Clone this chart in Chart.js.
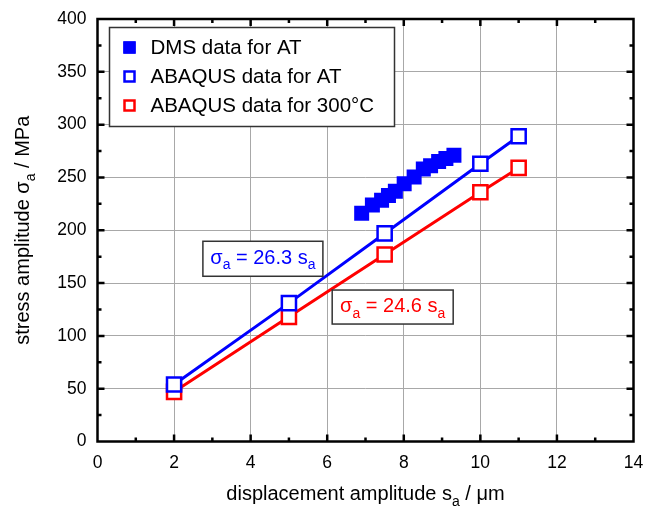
<!DOCTYPE html>
<html>
<head>
<meta charset="utf-8">
<script src="https://cdn.jsdelivr.net/npm/chart.js@4/dist/chart.umd.min.js"></script>
<style>
  html, body { margin: 0; padding: 0; background: #fff; }
  #wrap { width: 646px; height: 508px; position: relative; }
</style>
</head>
<body>
<div id="wrap"><canvas id="chart"></canvas></div>
<script>
// Stress amplitude vs displacement amplitude
const dmsX = [6.9, 7.18, 7.42, 7.6, 7.78, 8.01, 8.27, 8.51, 8.7, 8.91, 9.1, 9.31];
const dmsY = [216, 224, 228.5, 233, 237, 244, 250.5, 258, 261, 265, 268, 271];
const abaqusX = [2, 5, 7.5, 10, 11];
const abaqusAT = [54, 131, 197, 263, 289];
const abaqus300 = [47, 118, 177, 236, 259];
const seriesNames = ['DMS data for AT', 'ABAQUS data for AT', 'ABAQUS data for 300°C'];
const xTicks = [0, 2, 4, 6, 8, 10, 12, 14];
const yTicks = [0, 50, 100, 150, 200, 250, 300, 350, 400];

const BLUE = '#0000ff';
const RED = '#ff0000';
const FONT = '"Liberation Sans", Arial, sans-serif';

function pts(xs, ys) { return xs.map((x, i) => ({ x: x, y: ys[i] })); }

// text with subscripts: parts = [[text, isSub], ...]
function drawRich(ctx, parts, x, y, size, color, align) {
    const subSize = Math.round(size * 0.68);
    let total = 0;
    parts.forEach(p => {
        ctx.font = (p[1] ? subSize : size) + 'px ' + FONT;
        total += ctx.measureText(p[0]).width;
    });
    let cx = align === 'center' ? x - total / 2 : x;
    ctx.fillStyle = color;
    ctx.textBaseline = 'alphabetic';
    ctx.textAlign = 'left';
    parts.forEach(p => {
        ctx.font = (p[1] ? subSize : size) + 'px ' + FONT;
        ctx.fillText(p[0], cx, p[1] ? y + size * 0.28 : y);
        cx += ctx.measureText(p[0]).width;
    });
}

const framePlugin = {
    id: 'frame',
    afterDraw(chart) {
        const ctx = chart.ctx;
        const a = chart.chartArea;
        const xs = chart.scales.x, ys = chart.scales.y;
        ctx.save();
        ctx.strokeStyle = '#000';
        ctx.lineWidth = 2.5;
        ctx.strokeRect(a.left, a.top, a.right - a.left, a.bottom - a.top);
        ctx.beginPath();
        for (let v = 1; v < 14; v++) {
            const px = xs.getPixelForValue(v);
            const len = v % 2 === 0 ? 7 : 4;
            ctx.moveTo(px, a.bottom); ctx.lineTo(px, a.bottom - len);
            ctx.moveTo(px, a.top); ctx.lineTo(px, a.top + len);
        }
        for (let v = 25; v < 400; v += 25) {
            const py = ys.getPixelForValue(v);
            const len = v % 50 === 0 ? 7 : 4;
            ctx.moveTo(a.left, py); ctx.lineTo(a.left + len, py);
            ctx.moveTo(a.right, py); ctx.lineTo(a.right - len, py);
        }
        ctx.stroke();

        // axis titles
        drawRich(ctx, [['displacement amplitude s', false], ['a', true], [' / \u03bcm', false]],
            (a.left + a.right) / 2, 500, 20, '#000', 'center');
        ctx.save();
        ctx.translate(29, (a.top + a.bottom) / 2);
        ctx.rotate(-Math.PI / 2);
        drawRich(ctx, [['stress amplitude \u03c3', false], ['a', true], [' / MPa', false]],
            0, 0, 20, '#000', 'center');
        ctx.restore();

        // fit equation boxes
        const boxes = [
            { cx: 4.32, cy: 173, w: 120, h: 35, color: BLUE, parts: [['\u03c3', false], ['a', true], [' = 26.3 s', false], ['a', true]] },
            { cx: 7.71, cy: 127.3, w: 121, h: 34, color: RED, parts: [['\u03c3', false], ['a', true], [' = 24.6 s', false], ['a', true]] }
        ];
        boxes.forEach(b => {
            const px = xs.getPixelForValue(b.cx), py = ys.getPixelForValue(b.cy);
            ctx.fillStyle = '#fff';
            ctx.fillRect(px - b.w / 2, py - b.h / 2, b.w, b.h);
            ctx.strokeStyle = '#333';
            ctx.lineWidth = 1.5;
            ctx.strokeRect(px - b.w / 2, py - b.h / 2, b.w, b.h);
            drawRich(ctx, b.parts, px, py + 5, 20, b.color, 'center');
        });

        // legend
        const lx = a.left + 12, ly = a.top + 8.5, lw = 285, lh = 99;
        ctx.fillStyle = '#fff';
        ctx.fillRect(lx, ly, lw, lh);
        ctx.strokeStyle = '#333';
        ctx.lineWidth = 1.5;
        ctx.strokeRect(lx, ly, lw, lh);
        const rows = [
            { fill: BLUE, stroke: BLUE },
            { fill: '#fff', stroke: BLUE },
            { fill: '#fff', stroke: RED }
        ];
        rows.forEach((r, i) => {
            const ry = ly + 20 + i * 29;
            const mx = lx + 20;
            ctx.fillStyle = r.fill;
            ctx.fillRect(mx - 6, ry - 6, 12, 12);
            ctx.strokeStyle = r.stroke;
            ctx.lineWidth = 2.5;
            ctx.strokeRect(mx - 5, ry - 5, 10, 10);
            ctx.font = '20.5px ' + FONT;
            ctx.fillStyle = '#000';
            ctx.textAlign = 'left';
            ctx.textBaseline = 'middle';
            ctx.fillText(seriesNames[i], lx + 41, ry + 1);
        });
        ctx.restore();
    }
};

new Chart(document.getElementById('chart'), {
    type: 'scatter',
    data: {
        datasets: [
            {
                label: seriesNames[0],
                data: pts(dmsX, dmsY),
                showLine: false,
                pointStyle: 'rect',
                pointRadius: 10.6,
                pointBackgroundColor: BLUE,
                pointBorderColor: BLUE,
                pointBorderWidth: 0
            },
            {
                label: seriesNames[1],
                data: pts(abaqusX, abaqusAT),
                showLine: true,
                borderColor: BLUE,
                borderWidth: 3,
                pointStyle: 'rect',
                pointRadius: 10,
                pointBackgroundColor: '#fff',
                pointBorderColor: BLUE,
                pointBorderWidth: 2.5
            },
            {
                label: seriesNames[2],
                data: pts(abaqusX, abaqus300),
                showLine: true,
                borderColor: RED,
                borderWidth: 3,
                pointStyle: 'rect',
                pointRadius: 10,
                pointBackgroundColor: '#fff',
                pointBorderColor: RED,
                pointBorderWidth: 2.5
            }
        ]
    },
    options: {
        responsive: true,
        maintainAspectRatio: false,
        animation: false,
        layout: { padding: { top: 19, right: 12, left: 0, bottom: 0 } },
        plugins: { legend: { display: false }, tooltip: { enabled: false } },
        scales: {
            x: {
                type: 'linear',
                min: 0, max: 14,
                afterBuildTicks(scale) { scale.ticks = xTicks.map(v => ({ value: v })); },
                afterFit(scale) { scale.height = 66.5; scale.paddingLeft = 0; scale.paddingRight = 0; },
                grid: { color: '#a8a8a8', lineWidth: 1, drawTicks: false },
                border: { display: false },
                ticks: { color: '#000', padding: 11, font: { family: FONT, size: 17.5 } }
            },
            y: {
                type: 'linear',
                min: 0, max: 400,
                afterBuildTicks(scale) { scale.ticks = yTicks.map(v => ({ value: v })); },
                afterFit(scale) { scale.width = 97.5; scale.paddingTop = 0; scale.paddingBottom = 0; },
                grid: { color: '#a8a8a8', lineWidth: 1, drawTicks: false },
                border: { display: false },
                ticks: { color: '#000', padding: 11, font: { family: FONT, size: 17.5 } }
            }
        }
    },
    plugins: [framePlugin]
});
</script>
</body>
</html>
